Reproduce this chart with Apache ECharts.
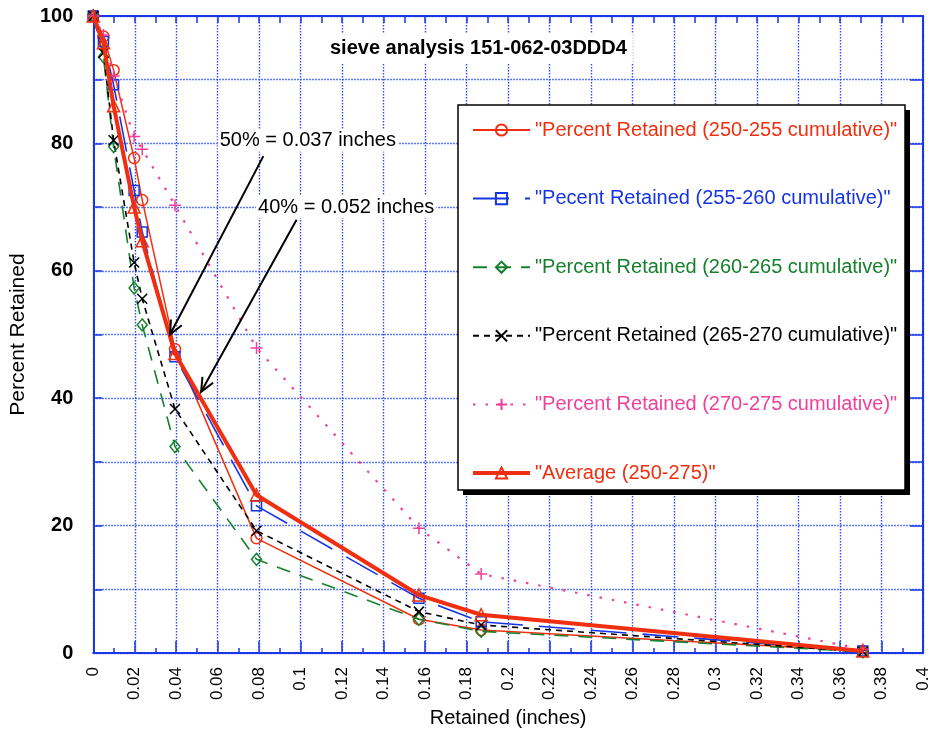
<!DOCTYPE html>
<html>
<head>
<meta charset="utf-8">
<script src="https://cdn.jsdelivr.net/npm/echarts@6/dist/echarts.min.js"></script>
<style>
  html, body { margin: 0; padding: 0; background: #fff; }
  #chart { width: 935px; height: 736px; }
</style>
</head>
<body>
<div id="chart"></div>
<script>
// Sieve openings (inches) and cumulative percent retained for each depth interval
const sieveSizes = [0, 0.0049, 0.0098, 0.0197, 0.0236, 0.0394, 0.0787, 0.157, 0.187, 0.371];
const retained250to255 = [100, 96.8, 91.5, 77.7, 71.1, 47.7, 18.0, 5.3, 3.6, 0.3];
const retained255to260 = [100, 96.0, 89.2, 72.6, 66.1, 46.5, 23.1, 8.6, 4.9, 0.3];
const retained260to265 = [100, 93.6, 79.5, 57.3, 51.5, 32.4, 14.7, 5.3, 3.4, 0.2];
const retained265to270 = [100, 94.2, 80.5, 61.3, 55.6, 38.3, 19.2, 6.5, 4.4, 0.2];
const retained270to275 = [100, 97.0, 90.6, 81.1, 79.1, 70.3, 47.9, 19.6, 12.4, 0.6];
const retainedAverage  = [100, 95.8, 85.9, 70.0, 64.7, 47.0, 24.8, 9.1, 6.0, 0.3];

const seriesNames = [
  '"Percent Retained (250-255 cumulative)"',
  '"Pecent Retained (255-260 cumulative)"',
  '"Percent Retained (260-265 cumulative)"',
  '"Percent Retained (265-270 cumulative)"',
  '"Percent Retained (270-275 cumulative)"',
  '"Average (250-275)"'
];

// Interpolated size callouts
const calloutLabels = ['50% = 0.037 inches', '40% = 0.052 inches'];
const calloutTips   = [[0.037, 50], [0.052, 41]];       // where each arrow points
const calloutTails  = [[0.082, 78.0], [0.098, 68.0]];   // where each arrow starts
const calloutText   = [[0.060, 80.4], [0.0785, 70.0]];  // left/middle anchor of each label

const RED = '#ef2f10', BLUE = '#1534e4', GREEN = '#16802c', BLACK = '#000', PINK = '#f0409a';
const AXIS = '#1a36e8', GRID = '#2b4cf2';
const FONT = '"Liberation Sans", Arial, Helvetica, sans-serif';

const CROSS = 'path://M0,0L10,10M10,0L0,10';
const PLUS = 'path://M5,0L5,10M0,5L10,5';

const pairs = ys => sieveSizes.map((x, i) => [x, ys[i]]);

function lineSeries(name, ys, color, width, dash, symbol, size, z) {
  return {
    name, type: 'line', data: pairs(ys), z,
    symbol, symbolSize: size, showSymbol: true,
    lineStyle: { color, width, type: dash },
    itemStyle: { color: 'rgba(255,255,255,0)', borderColor: color, borderWidth: 1.5 },
    emphasis: { disabled: true }
  };
}

const chart = echarts.init(document.getElementById('chart'), null, { renderer: 'canvas' });

const xCommon = { type: 'value', min: 0, max: 0.4, interval: 0.02 };
const yCommon = { type: 'value', min: 0, max: 100, interval: 10 };

chart.setOption({
  animation: false,
  backgroundColor: '#fff',
  textStyle: { fontFamily: FONT },
  title: {
    text: 'sieve analysis 151-062-03DDD4',
    left: 324, top: 33,
    padding: [5, 6, 5, 6],
    backgroundColor: '#fff',
    textStyle: { fontFamily: FONT, fontSize: 20, fontWeight: 'bold', color: '#000' }
  },
  grid: { left: 92, right: 12, top: 16, bottom: 83, containLabel: false },
  legend: {
    orient: 'vertical',
    left: 459, top: 105,
    padding: [15, 0, 0, 12],
    itemWidth: 57, itemHeight: 14, itemGap: 48.6,
    selectedMode: false,
    z: 6,
    textStyle: { fontFamily: FONT, fontSize: 20, lineHeight: 20 },
    data: [
      { name: seriesNames[0], textStyle: { color: RED } },
      { name: seriesNames[1], textStyle: { color: BLUE } },
      { name: seriesNames[2], textStyle: { color: GREEN } },
      { name: seriesNames[3], textStyle: { color: BLACK } },
      { name: seriesNames[4], textStyle: { color: PINK } },
      { name: seriesNames[5], textStyle: { color: RED }, lineStyle: { width: 4 } }
    ]
  },
  xAxis: [
    Object.assign({}, xCommon, {
      position: 'bottom',
      name: 'Retained (inches)', nameLocation: 'middle', nameGap: 55,
      nameTextStyle: { fontFamily: FONT, fontSize: 20, color: '#000' },
      axisLine: { show: true, onZero: false, lineStyle: { color: AXIS, width: 2 } },
      axisTick: { show: true, inside: true, length: 12, lineStyle: { color: AXIS, width: 1.5 } },
      minorTick: { show: true, splitNumber: 2, length: 5, lineStyle: { color: AXIS, width: 1.5 } },
      axisLabel: { rotate: 90, margin: 14, fontFamily: FONT, fontSize: 17, color: '#000', showMaxLabel: true, showMinLabel: true },
      splitLine: { show: true, lineStyle: { color: GRID, width: 1.4, type: [1.5, 1.5] } }
    }),
    Object.assign({}, xCommon, {
      position: 'top',
      axisLine: { show: true, onZero: false, lineStyle: { color: AXIS, width: 2 } },
      axisTick: { show: true, inside: true, length: 7, lineStyle: { color: AXIS, width: 1.5 } },
      minorTick: { show: true, splitNumber: 2, length: 7, lineStyle: { color: AXIS, width: 1.5 } },
      axisLabel: { show: false },
      splitLine: { show: false }
    })
  ],
  yAxis: [
    Object.assign({}, yCommon, {
      position: 'left',
      name: 'Percent Retained', nameLocation: 'middle', nameGap: 60,
      nameTextStyle: { fontFamily: FONT, fontSize: 21, color: '#000' },
      axisLine: { show: true, onZero: false, lineStyle: { color: AXIS, width: 2 } },
      axisTick: { show: true, inside: true, length: 9, lineStyle: { color: AXIS, width: 1.5 } },
      axisLabel: {
        margin: 20, fontFamily: FONT, fontSize: 20, fontWeight: 'bold', color: '#000',
        formatter: v => (v % 20 === 0 ? String(v) : '')
      },
      splitLine: { show: true, lineStyle: { color: GRID, width: 1.4, type: [1.5, 1.5] } }
    }),
    Object.assign({}, yCommon, {
      position: 'right',
      axisLine: { show: true, onZero: false, lineStyle: { color: AXIS, width: 2 } },
      axisTick: { show: true, inside: true, length: 13, lineStyle: { color: AXIS, width: 1.5 } },
      axisLabel: { show: false },
      splitLine: { show: false }
    })
  ],
  series: [
    lineSeries(seriesNames[0], retained250to255, RED, 1.5, 'solid', 'circle', 11, 3),
    lineSeries(seriesNames[1], retained255to260, BLUE, 1.6, [36, 16], 'rect', 10, 3),
    lineSeries(seriesNames[2], retained260to265, GREEN, 1.6, [14, 10], 'diamond', [10, 12], 3),
    lineSeries(seriesNames[3], retained265to270, BLACK, 1.6, [6, 5], CROSS, 10, 3),
    lineSeries(seriesNames[4], retained270to275, PINK, 2.2, [2.5, 10], PLUS, 12, 3),
    lineSeries(seriesNames[5], retainedAverage, RED, 4, 'solid', 'triangle', 12, 4)
  ]
});

// Legend frame with a solid drop shadow, then the callout arrows and their texts
const toPx = v => chart.convertToPixel({ xAxisIndex: 0, yAxisIndex: 0 }, v);
const graphics = [
  { type: 'rect', z: 4, shape: { x: 463, y: 110, width: 447, height: 385 }, style: { fill: '#000' } },
  { type: 'rect', z: 5, shape: { x: 458, y: 105, width: 447, height: 385 }, style: { fill: '#fff', stroke: '#000', lineWidth: 1.5 } }
];
calloutLabels.forEach((label, i) => {
  const tip = toPx(calloutTips[i]);
  const tail = toPx(calloutTails[i]);
  const ang = Math.atan2(tail[1] - tip[1], tail[0] - tip[0]);
  const len = 15, spread = 0.42;
  const a1 = [tip[0] + len * Math.cos(ang + spread), tip[1] + len * Math.sin(ang + spread)];
  const a2 = [tip[0] + len * Math.cos(ang - spread), tip[1] + len * Math.sin(ang - spread)];
  graphics.push({ type: 'polyline', z: 7, shape: { points: [tail, tip] }, style: { stroke: '#000', lineWidth: 2, fill: null } });
  graphics.push({ type: 'polyline', z: 7, shape: { points: [a1, tip, a2] }, style: { stroke: '#000', lineWidth: 2, fill: null } });
  const tp = toPx(calloutText[i]);
  graphics.push({
    type: 'text', x: tp[0], y: tp[1], z: 8,
    style: {
      text: label, fontFamily: FONT, fontSize: 20, fill: '#000',
      verticalAlign: 'middle', align: 'left',
      backgroundColor: '#fff', padding: [1, 2]
    }
  });
});
chart.setOption({ graphic: graphics });
</script>
</body>
</html>
